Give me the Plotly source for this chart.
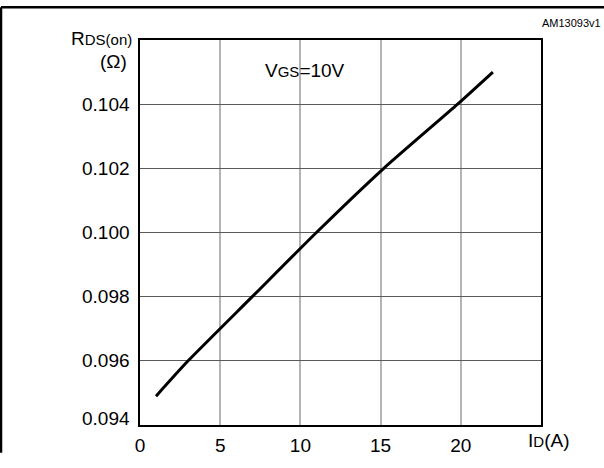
import plotly.graph_objects as go

# Data
current_a = [1, 3, 7, 11, 15.2, 19.8, 22]
rds_ohm = [0.0949, 0.0960, 0.0980, 0.1000, 0.1020, 0.1040, 0.1050]

x_ticks = [0, 5, 10, 15, 20]
y_ticks = [0.094, 0.096, 0.098, 0.100, 0.102, 0.104]
y_tick_text = ["0.094", "0.096", "0.098", "0.100", "0.102", "0.104"]

FONT = "Liberation Sans, Arial, Helvetica, sans-serif"
TICK_SIZE = 19

fig = go.Figure()
fig.add_trace(go.Scatter(x=current_a, y=rds_ohm, mode="lines",
                         line=dict(color="black", width=3, shape="spline", smoothing=0.6),
                         showlegend=False, hoverinfo="skip"))

fig.update_layout(
    width=604, height=468,
    margin=dict(l=140, r=63, t=40, b=27),
    paper_bgcolor="white", plot_bgcolor="white",
    font=dict(family=FONT, color="black", size=TICK_SIZE),
    xaxis=dict(range=[0, 25], tickvals=x_ticks, ticktext=[str(v) for v in x_ticks],
               showgrid=True, gridcolor="#b4b4b4", gridwidth=1.5,
               showline=True, linecolor="black", linewidth=1.5, mirror=True,
               ticks="", zeroline=False, ticklabelstandoff=2,
               tickfont=dict(size=TICK_SIZE, family=FONT)),
    yaxis=dict(range=[0.094, 0.106], tickvals=y_ticks, showticklabels=False,
               showgrid=True, gridcolor="#5a5a5a", gridwidth=1,
               showline=True, linecolor="black", linewidth=1.5, mirror=True,
               ticks="", zeroline=False),
)

annotations = []
for v, t in zip(y_ticks, y_tick_text):
    annotations.append(dict(x=-0.02, xref="paper", y=v, yref="y", text=t,
                            showarrow=False, xanchor="right", yanchor="middle",
                            yshift=7 if v == y_ticks[0] else 0,
                            font=dict(size=TICK_SIZE, family=FONT)))

annotations += [
    dict(x=-0.015, xref="paper", y=1.005, yref="paper",
         text="R<span style='font-size:15px'>DS(on)</span>",
         showarrow=False, xanchor="right", yanchor="middle",
         font=dict(size=TICK_SIZE, family=FONT)),
    dict(x=-0.067, xref="paper", y=0.943, yref="paper", text="(Ω)",
         showarrow=False, xanchor="center", yanchor="middle",
         font=dict(size=TICK_SIZE, family=FONT)),
    dict(x=10.3, xref="x", y=0.10506, yref="y",
         text="V<span style='font-size:15px'>GS</span>=10V",
         showarrow=False, xanchor="center", yanchor="middle",
         font=dict(size=TICK_SIZE, family=FONT)),
    dict(x=(548 - 140) / 401, xref="paper", y=0, yref="paper",
         text="I<span style='font-size:15px'>D</span>(A)",
         showarrow=False, xanchor="center", yanchor="top", yshift=-3,
         font=dict(size=TICK_SIZE, family=FONT)),
    dict(x=(603 - 140) / 401, xref="paper", y=(441 - 31) / 401, yref="paper",
         text="AM13093v1",
         showarrow=False, xanchor="right", yanchor="bottom",
         font=dict(size=11, family=FONT)),
]
fig.update_layout(annotations=annotations)

# outer figure frame (left and top edges)
fig.add_shape(type="line", xref="paper", yref="paper",
              x0=(1 - 140) / 401, x1=(1 - 140) / 401,
              y0=(441 - 470) / 401, y1=(441 - 6) / 401,
              line=dict(color="black", width=2.5))
fig.add_shape(type="line", xref="paper", yref="paper",
              x0=(1 - 140) / 401, x1=(606 - 140) / 401,
              y0=(441 - 6) / 401, y1=(441 - 6) / 401,
              line=dict(color="black", width=2.5))

fig.write_html("out.html")
